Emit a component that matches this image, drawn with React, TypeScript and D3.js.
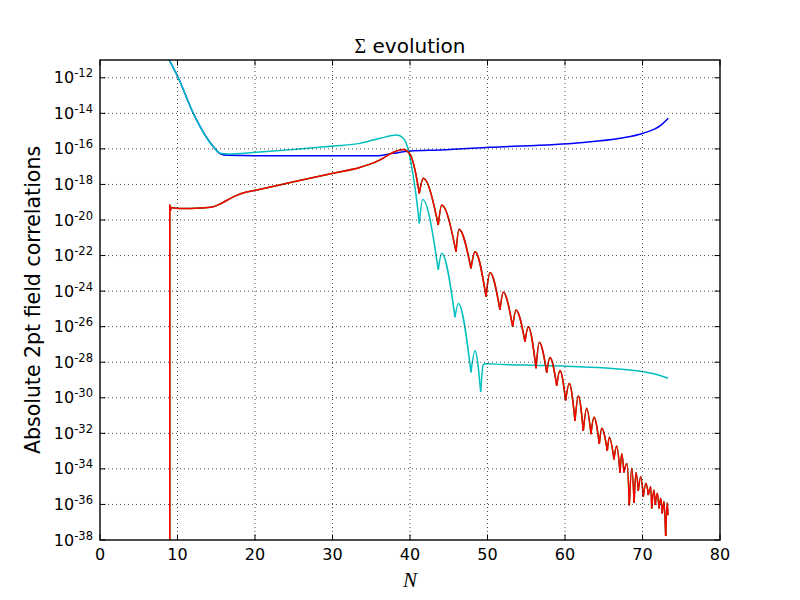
import { useEffect, useRef } from "react";
import * as d3 from "d3";

// every point is [N, log10 of |correlation|]
type P = [number, number];

const blueLine: P[] = [
  [8.5, -10.6], [8.94, -11.0], [10.1, -12.0], [12.04, -14.0], [14.8, -15.97],
  [15.5, -16.27], [16.5, -16.36], [20.0, -16.38], [30.0, -16.38], [36.0, -16.38],
  [37.85, -16.25], [40.0, -16.12], [43.9, -16.06], [50.3, -15.91], [61.9, -15.65],
  [67.1, -15.4], [70.1, -15.12], [72.26, -14.71], [73.33, -14.28],
];

const cyanHead: P[] = [
  [8.5, -10.6], [8.94, -11.0], [10.1, -12.0], [12.04, -14.0], [14.8, -15.97],
  [15.5, -16.25], [16.5, -16.29], [20.2, -16.19], [30.1, -15.84], [33.55, -15.69],
  [36.13, -15.4], [38.28, -15.22], [39.14, -15.4], [39.78, -16.06], [40.43, -17.56],
  [40.86, -18.88], [41.2, -20.19],
];
const cyanDips: P[] = [
  [41.2, -20.19], [43.65, -22.81], [45.81, -25.47], [47.87, -28.57], [49.12, -29.66],
];
const cyanPeaks: P[] = [
  [41.63, -18.84], [44.09, -21.87], [46.23, -24.69], [48.39, -27.35],
];
const cyanTail: P[] = [
  [49.12, -29.66], [49.45, -28.15], [49.8, -28.08], [52.0, -28.13], [54.8, -28.16],
  [61.9, -28.25], [69.5, -28.49], [71.5, -28.65], [73.3, -28.9],
];

const redSpike: P[] = [
  [9.0, -40], [9.0, -19.15], [9.1, -19.45], [9.2, -19.3],
];
const redHead: P[] = [
  [9.2, -19.3], [10.3, -19.36], [13.0, -19.33], [14.5, -19.27], [15.5, -19.1],
  [16.5, -18.86], [17.5, -18.64], [18.9, -18.43], [20.22, -18.31], [25.0, -17.85],
  [30.06, -17.37], [33.5, -17.05], [36.0, -16.65], [37.81, -16.2], [39.1, -16.04],
  [40.0, -16.3], [40.65, -17.19], [41.2, -18.5],
];
const redDips: P[] = [
  [41.2, -18.5], [43.65, -20.28], [45.94, -21.78], [47.87, -22.72], [49.81, -24.31],
  [51.61, -25.06], [53.25, -26.0], [54.84, -26.85], [56.26, -28.34], [57.64, -28.58],
  [58.93, -29.32], [60.08, -30.15], [61.29, -31.29], [62.36, -31.87], [63.35, -32.04],
  [64.43, -32.6], [65.46, -32.98], [66.32, -33.46], [67.1, -34.21], [67.6, -34.2],
  [68.3, -36.05], [68.92, -35.9], [69.46, -35.23], [70.1, -35.56], [70.75, -35.47],
  [71.19, -36.22], [71.65, -36.03], [72.13, -36.22], [72.55, -36.5], [72.99, -37.77],
  [73.29, -36.6],
];
const redPeaks: P[] = [
  [41.72, -17.65], [44.09, -19.16], [46.32, -20.52], [48.39, -21.78], [50.32, -22.96],
  [52.04, -24.07], [53.68, -25.06], [55.26, -26.0], [56.68, -26.88], [58.06, -27.73],
  [59.35, -28.47], [60.55, -29.19], [61.72, -29.9], [62.8, -30.59], [63.74, -31.1],
  [64.74, -31.72], [65.72, -32.22], [66.67, -32.71], [67.32, -33.15], [68.0, -33.7],
  [68.61, -33.96], [69.16, -34.21], [69.77, -34.44], [70.45, -34.81], [71.06, -35.0],
  [71.48, -35.19], [71.91, -35.37], [72.35, -35.65], [72.77, -35.84], [73.19, -35.9],
];

const xTicks = [0, 10, 20, 30, 40, 50, 60, 70, 80];
const yTickExps = [-38, -36, -34, -32, -30, -28, -26, -24, -22, -20, -18, -16, -14, -12];

const width = 800;
const height = 600;
const margin = { top: 60, right: 80, bottom: 60, left: 100 };
const sans = "DejaVu Sans, sans-serif";
const serif = "Liberation Serif, DejaVu Serif, serif";

// dip -> peak -> dip, one path each so the cusps stay sharp
const arches = (dips: P[], peaks: P[]) =>
  peaks.map((p, i) => [dips[i], p, dips[i + 1]] as P[]);

export default function App() {
  const svgRef = useRef<SVGSVGElement | null>(null);

  useEffect(() => {
    const svg = d3.select(svgRef.current);
    svg.selectAll("*").remove();

    const x = d3.scaleLinear().domain([0, 80]).range([margin.left, width - margin.right]);
    const y = d3.scaleLog().domain([1e-38, 1e-11]).range([height - margin.bottom, margin.top]);
    const x0 = margin.left, x1 = width - margin.right;
    const y0 = height - margin.bottom, y1 = margin.top;

    svg.append("defs").append("clipPath").attr("id", "plot")
      .append("rect").attr("x", x0).attr("y", y1).attr("width", x1 - x0).attr("height", y0 - y1);

    const smooth = d3.line<P>().x((d) => x(d[0])).y((d) => y(10 ** d[1])).curve(d3.curveMonotoneX);
    const straight = d3.line<P>().x((d) => x(d[0])).y((d) => y(10 ** d[1]));

    const lines = svg.append("g").attr("clip-path", "url(#plot)").attr("fill", "none")
      .attr("stroke-width", 1.5).attr("stroke-linejoin", "round");

    const draw = (pts: P[], color: string, gen = smooth) =>
      lines.append("path").attr("d", gen(pts)).attr("stroke", color);

    draw(blueLine, "#0000ff");

    const cyan = "#00bfbf";
    draw(cyanHead, cyan);
    arches(cyanDips, cyanPeaks).forEach((a) => draw(a, cyan));
    draw(cyanTail, cyan);

    // green sits under the red one (same values), only the edges show
    ["#008000", "#ff0000"].forEach((c) => {
      draw(redSpike, c, straight);
      draw(redHead, c);
      arches(redDips, redPeaks).forEach((a) => draw(a, c));
    });

    // grid (classic style: above the lines)
    const grid = svg.append("g").attr("stroke", "#000").attr("stroke-width", 0.7)
      .attr("stroke-dasharray", "1,3");
    xTicks.slice(1, -1).forEach((t) =>
      grid.append("line").attr("x1", x(t)).attr("x2", x(t)).attr("y1", y0).attr("y2", y1));
    yTickExps.slice(1).forEach((e) =>
      grid.append("line").attr("x1", x0).attr("x2", x1).attr("y1", y(10 ** e)).attr("y2", y(10 ** e)));

    // inward ticks on all four sides
    const ticks = svg.append("g").attr("stroke", "#000").attr("stroke-width", 1);
    const tl = 5.5;
    xTicks.forEach((t) => {
      ticks.append("line").attr("x1", x(t)).attr("x2", x(t)).attr("y1", y0).attr("y2", y0 - tl);
      ticks.append("line").attr("x1", x(t)).attr("x2", x(t)).attr("y1", y1).attr("y2", y1 + tl);
    });
    yTickExps.forEach((e) => {
      const yy = y(10 ** e);
      ticks.append("line").attr("x1", x0).attr("x2", x0 + tl).attr("y1", yy).attr("y2", yy);
      ticks.append("line").attr("x1", x1).attr("x2", x1 - tl).attr("y1", yy).attr("y2", yy);
    });

    svg.append("rect").attr("x", x0).attr("y", y1).attr("width", x1 - x0).attr("height", y0 - y1)
      .attr("fill", "none").attr("stroke", "#000").attr("stroke-width", 1.4);

    // tick labels
    svg.append("g").selectAll("text").data(xTicks).join("text")
      .attr("x", (d) => x(d)).attr("y", y0 + 20)
      .attr("text-anchor", "middle").style("font-family", sans).style("font-size", "16px")
      .attr("fill", "#000").text((d) => d);

    const yl = svg.append("g").selectAll("text").data(yTickExps).join("text")
      .attr("x", x0 - 7).attr("y", (d) => y(10 ** d) + 5.5)
      .attr("text-anchor", "end").style("font-family", sans).style("font-size", "16px")
      .attr("fill", "#000");
    yl.append("tspan").text("10");
    yl.append("tspan").attr("dy", -6).style("font-size", "11.5px").text((d) => `-${-d}`);

    // title and axis labels
    const title = svg.append("text").attr("x", (x0 + x1) / 2).attr("y", 53)
      .attr("text-anchor", "middle").style("font-size", "20px").attr("fill", "#000");
    title.append("tspan").style("font-family", serif).text("Σ");
    title.append("tspan").style("font-family", sans).text(" evolution");

    svg.append("text").attr("x", (x0 + x1) / 2).attr("y", 587)
      .attr("text-anchor", "middle").style("font-family", serif).style("font-style", "italic")
      .style("font-size", "21px").attr("fill", "#000").text("N");

    svg.append("text").attr("transform", `translate(40,${(y0 + y1) / 2}) rotate(-90)`)
      .attr("text-anchor", "middle").style("font-family", sans).style("font-size", "20.5px")
      .attr("fill", "#000").text("Absolute 2pt field correlations");
  }, []);

  return (
    <svg
      ref={svgRef}
      width={width}
      height={height}
      style={{ position: "absolute", left: 0, top: 0, backgroundColor: "#ffffff" }}
    />
  );
}
